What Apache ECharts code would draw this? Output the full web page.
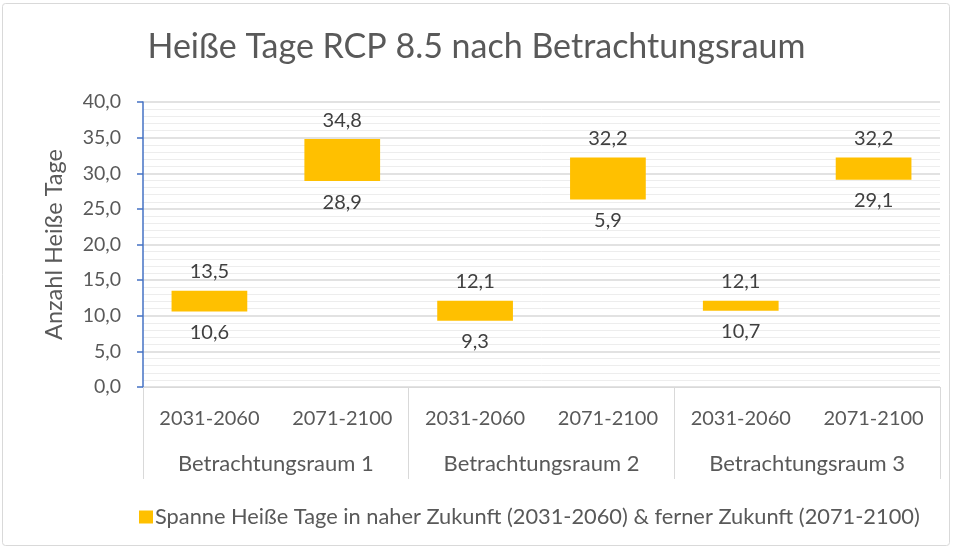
<!DOCTYPE html>
<html lang="de">
<head>
<meta charset="utf-8">
<title>Heiße Tage RCP 8.5 nach Betrachtungsraum</title>
<script src="https://cdn.jsdelivr.net/npm/echarts@6/dist/echarts.min.js"></script>
<style>
  html, body { margin: 0; padding: 0; background: #ffffff; }
  #chart { width: 953px; height: 549px; }
</style>
</head>
<body>
<div id="chart"></div>
<script>
// Zeiträume je Betrachtungsraum und Gruppen
const zeitraeume = ['2031-2060', '2071-2100', '2031-2060', '2071-2100', '2031-2060', '2071-2100'];
const raeume = ['Betrachtungsraum 1', 'Betrachtungsraum 2', 'Betrachtungsraum 3'];

// Untere und obere Grenze der Spanne (Anzahl heißer Tage)
const untereGrenze = [10.6, 28.9, 9.3, 26.3, 10.7, 29.1];
const obereGrenze = [13.5, 34.8, 12.1, 32.2, 12.1, 32.2];

// Beschriftungen unterhalb der Balken
const untereBeschriftung = [10.6, 28.9, 9.3, 5.9, 10.7, 29.1];

// Achsenbeschriftungen
const yTicks = [0, 5, 10, 15, 20, 25, 30, 35, 40];

const spanne = obereGrenze.map((v, i) => Math.round((v - untereGrenze[i]) * 10) / 10);
const fmt = v => Number(v).toFixed(1).replace('.', ',');

const FONT = 'Lato';
const TEXT = '#595959';

const chart = echarts.init(document.getElementById('chart'), null, { renderer: 'canvas' });

chart.setOption({
  backgroundColor: '#ffffff',
  animation: false,
  textStyle: { fontFamily: FONT },
  title: {
    text: 'Heiße Tage RCP 8.5 nach Betrachtungsraum',
    left: 'center',
    top: 25,
    textStyle: { fontFamily: FONT, fontSize: 34, fontWeight: 'normal', color: TEXT }
  },
  graphic: [{
    type: 'rect',
    shape: { x: 2.5, y: 3.5, width: 947, height: 542, r: 3 },
    style: { fill: 'none', stroke: '#d9d9d9', lineWidth: 1 },
    silent: true
  }],
  legend: {
    bottom: 16,
    left: 134,
    itemWidth: 14,
    itemHeight: 13,
    itemGap: 5,
    data: ['Spanne Heiße Tage in naher Zukunft (2031-2060) & ferner Zukunft (2071-2100)'],
    textStyle: { fontFamily: FONT, fontSize: 21.8, color: TEXT, padding: [0, 0, 0, -3] },
    icon: 'rect'
  },
  grid: { left: 143, right: 13, top: 102, bottom: 162, containLabel: false },
  xAxis: [{
    type: 'category',
    data: zeitraeume,
    position: 'bottom',
    axisLine: { show: true, lineStyle: { color: '#d9d9d9', width: 1 } },
    axisTick: { show: false },
    axisLabel: { fontFamily: FONT, fontSize: 20, color: TEXT, margin: 22, interval: 0 },
    splitLine: { show: false }
  }, {
    type: 'category',
    data: raeume,
    position: 'bottom',
    axisLine: { show: false },
    axisTick: { show: true, interval: 0, length: 92, lineStyle: { color: '#d9d9d9', width: 1 } },
    axisLabel: { fontFamily: FONT, fontSize: 22, color: TEXT, margin: 66, interval: 0 },
    splitLine: { show: false }
  }],
  yAxis: {
    type: 'value',
    min: yTicks[0],
    max: yTicks[yTicks.length - 1],
    interval: 5,
    name: 'Anzahl Heiße Tage',
    nameLocation: 'middle',
    nameGap: 77,
    nameRotate: 90,
    nameTextStyle: { fontFamily: FONT, fontSize: 23.5, color: TEXT },
    axisLine: { show: true, lineStyle: { color: '#4472c4', width: 1.5 } },
    axisTick: { show: true, length: 6, inside: false, lineStyle: { color: '#4472c4', width: 1.5 } },
    axisLabel: { fontFamily: FONT, fontSize: 19.5, color: TEXT, margin: 22, formatter: v => fmt(v) },
    splitLine: { show: true, lineStyle: { color: '#d9d9d9', width: 1.5 } },
    minorTick: { show: false, splitNumber: 5 },
    minorSplitLine: { show: true, lineStyle: { color: '#ededed', width: 1 } }
  },
  series: [{
    name: 'Basis',
    type: 'bar',
    stack: 'spanne',
    xAxisIndex: 0,
    barCategoryGap: '43%',
    data: untereGrenze,
    itemStyle: { color: 'rgba(0,0,0,0)' },
    label: {
      show: true,
      position: 'insideTop',
      distance: 11,
      fontFamily: FONT,
      fontSize: 20,
      color: '#404040',
      formatter: p => fmt(untereBeschriftung[p.dataIndex])
    },
    emphasis: { disabled: true },
    silent: true
  }, {
    name: 'Spanne Heiße Tage in naher Zukunft (2031-2060) & ferner Zukunft (2071-2100)',
    type: 'bar',
    stack: 'spanne',
    xAxisIndex: 0,
    barCategoryGap: '43%',
    data: spanne,
    itemStyle: { color: '#ffc000' },
    label: {
      show: true,
      position: 'top',
      distance: 9,
      fontFamily: FONT,
      fontSize: 20,
      color: '#404040',
      formatter: p => fmt(obereGrenze[p.dataIndex])
    }
  }]
});
</script>
</body>
</html>
